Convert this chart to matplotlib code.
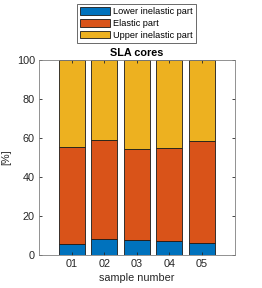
import numpy as np
from matplotlib import pyplot as plt

plt.rcParams['font.family'] = ['Liberation Sans', 'DejaVu Sans']

samples = ['01', '02', '03', '04', '05']
lower = [5.6, 8.4, 7.5, 7.0, 6.0]
elastic_top = [55.5, 59.0, 54.2, 55.0, 58.6]
elastic = [t - l for t, l in zip(elastic_top, lower)]
upper = [100 - t for t in elastic_top]

colors = ['#0072BD', '#D95319', '#EDB120']
axcol = '#262626'

fig = plt.figure(figsize=(2.62, 2.88), dpi=100)
ax = fig.add_axes([39 / 262, 1 - 255 / 288, 195.5 / 262, 195 / 288])

x = np.arange(1, len(samples) + 1)
kw = dict(width=0.8, edgecolor='#1a1a1a', linewidth=0.6)
ax.bar(x, lower, color=colors[0], label='Lower inelastic part', **kw)
ax.bar(x, elastic, bottom=lower, color=colors[1], label='Elastic part', **kw)
ax.bar(x, upper, bottom=elastic_top, color=colors[2], label='Upper inelastic part', **kw)

ax.set_xlim(0, 6)
ax.set_ylim(0, 100)
ax.set_xticks(x)
ax.set_xticklabels(samples)
ax.set_yticks([0, 20, 40, 60, 80, 100])
ax.tick_params(direction='in', length=2.5, width=0.6, colors=axcol,
               labelsize=7.8, top=True, right=True, labelcolor=axcol, pad=3)
for s in ax.spines.values():
    s.set_color('#808080')
    s.set_linewidth(0.6)

ax.set_title('SLA cores', fontsize=7.8, fontweight='bold', pad=3, color='#000000')
ax.set_xlabel('sample number', fontsize=7.8, color=axcol, labelpad=3)
ax.set_ylabel('[%]', fontsize=7.8, color=axcol, labelpad=4)

leg = fig.legend(loc='upper center', bbox_to_anchor=(136.5 / 262, 1 - 4 / 288),
                 fontsize=6.6, frameon=True, fancybox=False, edgecolor='#262626',
                 handlelength=3.3, handleheight=0.92, borderpad=0.35,
                 labelspacing=0.3, handletextpad=0.35, borderaxespad=0)
leg.get_frame().set_linewidth(0.6)

fig.savefig('out.png', dpi=100)
